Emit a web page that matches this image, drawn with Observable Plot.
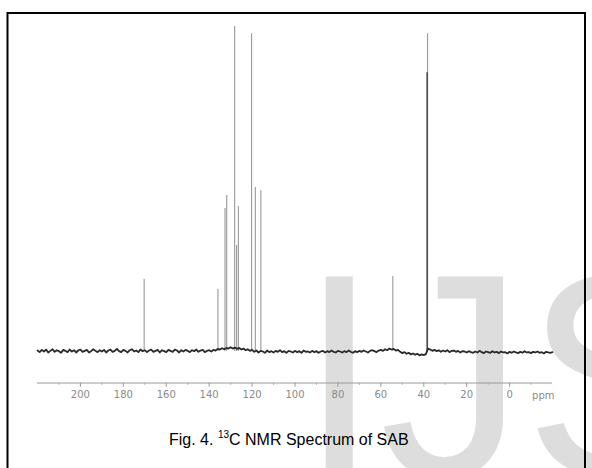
<!DOCTYPE html>
<html><head><meta charset="utf-8">
<script src="https://cdn.jsdelivr.net/npm/d3@7"></script>
<script src="https://cdn.jsdelivr.net/npm/@observablehq/plot@0.6"></script>
<style>html,body{margin:0;padding:0;background:#fff;} #chart{width:592px;height:468px;}</style>
</head><body><div id="chart"></div>
<script>
// Peak positions (ppm) and heights (relative intensity, tallest = 100)
const peakPpm       = [170.3, 135.9, 132.6, 131.8, 128.1, 127.2, 126.4, 120.2, 118.5, 115.9, 54.4, 38.2];
const peakIntensity = [ 22.2,  19.1,  44.0,  48.0, 100.0,  32.6,  44.6,  97.8,  50.5,  49.5, 23.1, 97.8];
// dense inner part of the solvent (DMSO) multiplet
const solventPpm       = [38.4];
const solventIntensity = [85.8];
// baseline noise readings, every 1 ppm from 220 down to -20
const baselineStart = 220, baselineStep = 1;
const baselineNoise = [
  0.3,-0.2,0.5,0.0,0.6,-0.3,0.2,0.7,-0.1,0.4,
  0.1,-0.4,0.5,0.2,-0.2,0.6,0.0,0.4,-0.3,0.3,
  0.6,-0.1,0.2,0.5,-0.3,0.1,0.7,0.2,-0.2,0.4,
  0.0,0.5,-0.3,0.3,0.6,-0.1,0.2,0.8,0.1,-0.2,
  0.5,0.2,-0.3,0.4,0.7,0.0,0.3,-0.2,0.6,0.1,
  0.4,-0.2,0.3,0.6,-0.1,0.2,0.5,-0.3,0.4,0.1,
  -0.2,0.5,0.2,-0.1,0.6,0.3,-0.3,0.4,0.0,0.5,
  0.2,-0.2,0.4,0.1,0.6,-0.1,0.3,0.5,-0.2,0.2,
  0.4,0.0,0.5,0.3,0.8,0.6,1.0,0.7,1.1,0.9,
  1.3,0.9,1.2,0.8,1.1,0.6,0.9,0.4,0.7,0.2,
  0.5,-0.1,0.3,-0.3,0.2,0.0,-0.4,0.3,-0.2,0.1,
  -0.3,0.2,-0.1,0.4,-0.2,0.1,-0.4,0.2,0.0,-0.3,
  0.2,-0.2,0.1,-0.4,0.3,-0.1,0.0,-0.3,0.2,-0.2,
  0.1,-0.4,0.0,0.2,-0.3,0.1,-0.2,0.3,-0.1,-0.3,
  0.2,0.0,-0.3,0.1,-0.2,0.3,-0.1,-0.4,0.1,-0.2,
  0.2,-0.1,0.3,0.0,-0.3,0.2,0.4,0.1,-0.2,0.3,
  0.5,0.2,0.7,0.4,0.9,0.6,0.8,0.3,0.5,-0.1,
  -0.5,-0.2,-0.7,-0.4,-0.9,-0.6,-1.0,-0.7,-1.2,-0.9,
  -1.1,-0.8,0.9,0.6,0.2,0.5,0.1,0.4,-0.1,0.3,
  0.0,0.4,-0.2,0.2,0.3,-0.1,0.2,-0.3,0.1,0.0,
  -0.3,0.1,-0.2,-0.4,0.0,-0.3,0.2,-0.2,-0.5,0.0,
  -0.2,-0.4,0.1,-0.3,-0.1,-0.5,0.0,-0.3,-0.2,-0.6,
  -0.1,-0.4,0.0,-0.3,-0.5,-0.1,-0.4,0.1,-0.3,-0.2,
  -0.5,-0.1,-0.3,0.0,-0.4,-0.2,-0.6,-0.1,-0.3,-0.4,
  -0.2
];
const majorTicks = [200,180,160,140,120,100,80,60,40,20,0];
const minorTicks = [210,190,170,150,130,110,90,70,50,30,10,-10];
const tickLabels = ["200","180","160","140","120","100","80","60","40","20","0"];
const unitLabel = "ppm";
const captionParts = ["Fig. 4. ", "13", "C NMR Spectrum of SAB"];
const watermark = "IJS";

const peaks = peakPpm.map((p, i) => ({ppm: p, h: peakIntensity[i]}));
const solvent = solventPpm.map((p, i) => ({ppm: p, h: solventIntensity[i]}));
const base = baselineNoise.map((v, i) => ({ppm: baselineStart - baselineStep * i, v}));
const axisY = -9.7;

const plot = Plot.plot({
  width: 592, height: 468, margin: 0,
  x: {domain: [220, -20], range: [37, 552], axis: null},
  y: {domain: [0, 100], range: [351, 26], axis: null},
  style: {background: "transparent", fontFamily: "DejaVu Sans, sans-serif", overflow: "visible"},
  marks: [
    Plot.ruleX(peaks, {x: "ppm", y1: 0, y2: "h", stroke: "#8e8e8e", strokeWidth: 1}),
    Plot.ruleX(solvent, {x: "ppm", y1: 0, y2: "h", stroke: "#4a4a4a", strokeWidth: 1.6}),
    Plot.line(base, {x: "ppm", y: "v", stroke: "#2a2a2a", strokeWidth: 1.8}),
    Plot.ruleY([axisY], {x1: 220, x2: -20, stroke: "#9a9a9a", strokeWidth: 1}),
    Plot.ruleX(majorTicks, {x: d => d, y1: axisY, y2: axisY - 1.3, stroke: "#9a9a9a"}),
    Plot.ruleX(minorTicks, {x: d => d, y1: axisY, y2: axisY - 0.7, stroke: "#aaa"}),
    Plot.text(majorTicks, {x: d => d, y: axisY - 3.6, text: (d, i) => tickLabels[i], fill: "#8a8a8a", fontSize: 10}),
    Plot.text([unitLabel], {x: -15.7, y: axisY - 3.9, text: d => d, fill: "#8a8a8a", fontSize: 10})
  ]
});

const svg = d3.select(plot);
svg.insert("text", ":first-child")
  .attr("x", 299).attr("y", 476)
  .attr("text-anchor", "start")
  .attr("font-family", "Liberation Sans, Arial, sans-serif")
  .attr("font-size", 290)
  .attr("fill", "#dddddd")
  .text(watermark);
svg.insert("rect", ":first-child").attr("width", 592).attr("height", 468).attr("fill", "#fff");

const cap = svg.append("text")
  .attr("x", 169).attr("y", 445)
  .attr("text-anchor", "start")
  .attr("font-family", "Liberation Sans, Arial, sans-serif")
  .attr("font-size", 16).attr("fill", "#000");
cap.append("tspan").text(captionParts[0]);
cap.append("tspan").attr("font-size", 10).attr("dy", -7).text(captionParts[1]);
cap.append("tspan").attr("dy", 7).text(captionParts[2]);

svg.append("path").attr("d", "M7.5,468 V13 H585 V468")
  .attr("fill", "none").attr("stroke", "#000").attr("stroke-width", 2);

document.getElementById("chart").appendChild(plot);
</script>
</body></html>
